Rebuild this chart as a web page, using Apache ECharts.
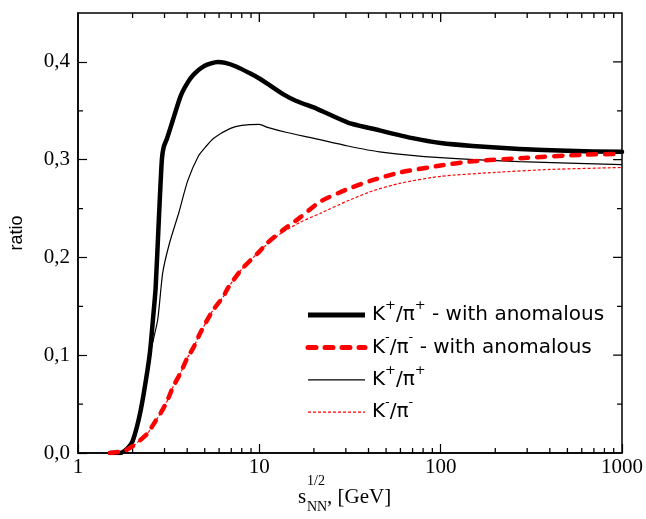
<!DOCTYPE html>
<html><head><meta charset="utf-8">
<script src="https://cdn.jsdelivr.net/npm/echarts@6/dist/echarts.min.js"></script>
<style>html,body{margin:0;padding:0;background:#fff}#c{width:646px;height:519px}</style>
</head><body><div id="c"></div>
<script>
// K+/pi+ with anomalous (thick black)
const kpAnomX = [1.5,1.7,1.8,1.9,2.0,2.16,2.3,2.49,2.6,2.68,2.79,2.9,2.97,3.1,3.33,3.68,4.0,4.34,5.0,5.88,6.5,7.5,8.93,10,11,13.5,16,20.8,30.8,46,70,100,150,272,500,1000];
const kpAnomY = [0,0,0.002,0.006,0.012,0.034,0.06,0.102,0.14,0.169,0.238,0.300,0.313,0.322,0.340,0.365,0.378,0.387,0.396,0.400,0.399,0.395,0.388,0.383,0.378,0.367,0.360,0.352,0.338,0.330,0.322,0.317,0.314,0.311,0.309,0.308];
// K-/pi- with anomalous (thick red dashed)
const kmAnomX = [1.5,1.8,2.0,2.2,2.42,2.62,2.86,3.1,3.33,3.68,4.0,4.34,4.7,5.5,6.34,6.67,8,10,11.1,13.5,16.8,21.6,30.8,42,60,100,144,300,600,1000];
const kmAnomY = [0,0.002,0.007,0.013,0.020,0.030,0.041,0.053,0.067,0.082,0.097,0.108,0.122,0.145,0.160,0.168,0.188,0.206,0.215,0.228,0.241,0.257,0.270,0.279,0.287,0.294,0.298,0.302,0.305,0.306];
// K+/pi+ (thin black)
const kpX = [1.5,1.8,2.0,2.16,2.49,2.75,2.93,3.2,3.6,4.02,4.62,5.05,5.6,6.93,8,10,11.1,14,19.8,30.8,46,100,272,1000];
const kpY = [0,0.002,0.012,0.034,0.100,0.136,0.184,0.215,0.246,0.278,0.304,0.313,0.322,0.332,0.335,0.336,0.333,0.328,0.322,0.314,0.308,0.302,0.298,0.295];
// K-/pi- (thin red dotted)
const kmX = [1.5,1.8,2.0,2.2,2.42,2.62,2.86,3.1,3.33,3.68,4.0,4.34,4.7,5.5,6.34,6.67,8,10,11.1,13.5,16.8,21.6,30.8,42,60,100,200,400,1000];
const kmY = [0,0.002,0.007,0.013,0.020,0.030,0.041,0.053,0.067,0.082,0.097,0.108,0.122,0.145,0.160,0.168,0.188,0.206,0.214,0.226,0.236,0.245,0.258,0.268,0.276,0.283,0.287,0.290,0.292];

const xMajorTicks = [10, 100];
const xMinorTicks = [2,3,4,5,6,7,8,9,20,30,40,50,60,70,80,90,200,300,400,500,600,700,800,900];
const yMajorTicks = [0.1, 0.2, 0.3, 0.4];
const yMinorTicks = [0.05,0.15,0.25,0.35];

const X_MIN = 1, X_MAX = 1000, Y_MIN = 0, Y_MAX = 0.45;
// tick lengths in axis units (plot is 440 px for 0.45, 182 px per decade)
const MINOR_Y = 0.0051, MAJOR_Y = 0.0092;
const MINOR_XF = 1.0653, MAJOR_XF = 1.12;

const zip = (xs, ys) => xs.map((x, i) => [x, ys[i]]);
const serif = 'Liberation Serif';
const sans = 'DejaVu Sans';

const chart = echarts.init(document.getElementById('c'), null, {renderer: 'canvas'});

// top / right ticks (major and minor) and left / bottom minor ticks, as broken segments
const tickPts = [];
function xTick(v, ly, both) {
  if (both) tickPts.push([v, Y_MIN], [v, Y_MIN + ly], [v, '-']);
  tickPts.push([v, Y_MAX], [v, Y_MAX - ly], [v, '-']);
}
function yTick(v, fx, both) {
  if (both) tickPts.push([X_MIN, v], [X_MIN * fx, v], [X_MIN, '-']);
  tickPts.push([X_MAX, v], [X_MAX / fx, v], [X_MAX, '-']);
}
xMinorTicks.forEach(v => xTick(v, MINOR_Y, true));
xMajorTicks.forEach(v => xTick(v, MAJOR_Y, false));
yMinorTicks.forEach(v => yTick(v, MINOR_XF, true));
yMajorTicks.forEach(v => yTick(v, MAJOR_XF, false));

const rich = {
  m: {fontFamily: sans, fontSize: 20, lineHeight: 32, fill: '#000', color: '#000'},
  sup: {fontFamily: sans, fontSize: 13, lineHeight: 20, verticalAlign: 'top', fill: '#000', color: '#000'}
};
const legendRows = [
  {text: '{m|K}{sup|+}{m|/π}{sup|+}{m| - with anomalous}', stroke: '#000', width: 5, dash: null},
  {text: '{m|K}{sup|-}{m|/π}{sup|-}{m| - with anomalous}', stroke: '#ff0000', width: 5, dash: [8, 9]},
  {text: '{m|K}{sup|+}{m|/π}{sup|+}', stroke: '#000', width: 1.2, dash: null},
  {text: '{m|K}{sup|-}{m|/π}{sup|-}', stroke: '#ff0000', width: 1.2, dash: [3, 2]}
];
const legendGraphics = [];
legendRows.forEach((r, i) => {
  const cy = 315 + i * 32.4;
  legendGraphics.push({type: 'line', shape: {x1: 308, y1: cy, x2: 365, y2: cy},
    style: {stroke: r.stroke, lineWidth: r.width, lineDash: r.dash, lineCap: r.dash && r.width > 2 ? 'round' : 'butt'}});
  legendGraphics.push({type: 'text', x: 372, y: cy,
    style: {text: r.text, rich: rich, fontFamily: sans, fontSize: 20, fill: '#000', verticalAlign: 'middle', align: 'left'}});
});

const option = {
  animation: false,
  backgroundColor: '#fff',
  grid: {left: 77, right: 23, top: 13, bottom: 66, containLabel: false,
    show: true, borderColor: '#000', borderWidth: 1.5, backgroundColor: 'transparent'},
  xAxis: {
    type: 'log', logBase: 10, min: X_MIN, max: X_MAX, position: 'bottom',
    axisLine: {show: true, onZero: false, lineStyle: {color: '#000', width: 1.5}},
    axisTick: {show: true, inside: true, length: 9, lineStyle: {color: '#000', width: 1.2}},
    splitLine: {show: false},
    axisLabel: {color: '#000', fontFamily: serif, fontSize: 21, margin: 4, formatter: v => String(Math.round(v))}
  },
  yAxis: {
    type: 'value', min: Y_MIN, max: Y_MAX, interval: 0.1, position: 'left',
    axisLine: {show: true, onZero: false, lineStyle: {color: '#000', width: 1.5}},
    axisTick: {show: true, inside: true, length: 9, lineStyle: {color: '#000', width: 1.2}},
    splitLine: {show: false},
    axisLabel: {color: '#000', fontFamily: serif, fontSize: 21, margin: 8, showMaxLabel: false,
      formatter: v => (v > 0.44 ? '' : v.toFixed(1).replace('.', ','))},
    name: 'ratio', nameLocation: 'middle', nameGap: 52,
    nameTextStyle: {fontFamily: 'Liberation Sans', fontSize: 18, color: '#000'}
  },
  graphic: legendGraphics.concat([
    {type: 'text', x: 298, y: 497, style: {text: 's', fontFamily: serif, fontSize: 21, fill: '#000', verticalAlign: 'middle', align: 'left'}},
    {type: 'text', x: 307, y: 481, style: {text: '1/2', fontFamily: serif, fontSize: 14, fill: '#000', verticalAlign: 'middle', align: 'left'}},
    {type: 'text', x: 307, y: 507, style: {text: 'NN', fontFamily: serif, fontSize: 14, fill: '#000', verticalAlign: 'middle', align: 'left'}},
    {type: 'text', x: 327, y: 497, style: {text: ', [GeV]', fontFamily: serif, fontSize: 21, fill: '#000', verticalAlign: 'middle', align: 'left'}}
  ]),
  series: [
    {name: 'ticks', type: 'line', data: tickPts, symbol: 'none',
      lineStyle: {color: '#000', width: 1.3}, itemStyle: {color: '#000'}},
    {name: 'kp', type: 'line', data: zip(kpX, kpY), symbol: 'none', showSymbol: false, smooth: 0.2,
      lineStyle: {color: '#000', width: 1.2}, itemStyle: {color: '#000'}, z: 2},
    {name: 'km', type: 'line', data: zip(kmX, kmY), symbol: 'none', showSymbol: false, smooth: 0.2,
      lineStyle: {color: '#ff0000', width: 1.2, type: [3, 2]}, itemStyle: {color: '#ff0000'}, z: 3},
    {name: 'kpA', type: 'line', data: zip(kpAnomX, kpAnomY), symbol: 'none', showSymbol: false, smooth: 0.2,
      lineStyle: {color: '#000', width: 4.5, join: 'round', cap: 'round'}, itemStyle: {color: '#000'}, z: 4},
    {name: 'kmA', type: 'line', data: zip(kmAnomX, kmAnomY), symbol: 'none', showSymbol: false, smooth: 0.2,
      lineStyle: {color: '#ff0000', width: 4.5, type: [8, 9], cap: 'round'}, itemStyle: {color: '#ff0000'}, z: 5}
  ]
};
chart.setOption(option);
</script>
</body></html>
